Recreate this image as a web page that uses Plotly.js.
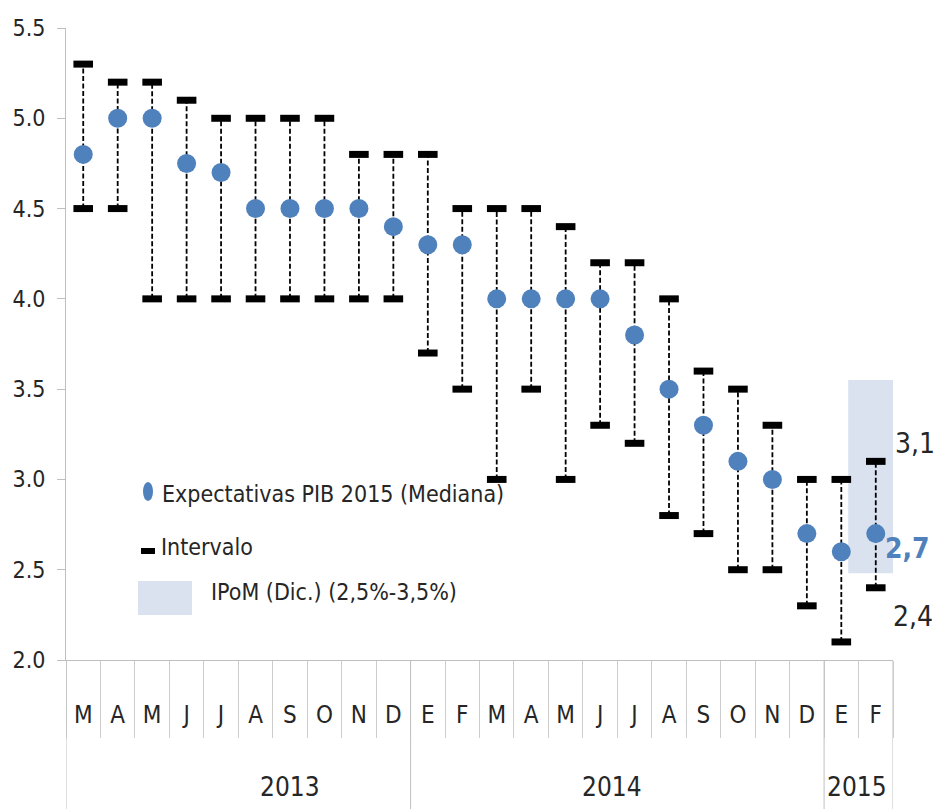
<!DOCTYPE html>
<html>
<head>
<meta charset="utf-8">
<script src="https://cdn.plot.ly/plotly-3.0.1.min.js"></script>
<style>
html,body{margin:0;padding:0;background:#fff;}
#chart{width:934px;height:809px;}
</style>
</head>
<body>
<div id="chart"></div>
<script>
// ---- data ----
const months = ['M','A','M','J','J','A','S','O','N','D','E','F','M','A','M','J','J','A','S','O','N','D','E','F'];
const yearLabels = ['2013','2014','2015'];
const yearLabelPos = [6.0, 15.35, 22.45];
const yearBoundaries = [-0.5, 9.5, 21.5, 23.5];
const median = [4.8,5.0,5.0,4.75,4.7,4.5,4.5,4.5,4.5,4.4,4.3,4.3,4.0,4.0,4.0,4.0,3.8,3.5,3.3,3.1,3.0,2.7,2.6,2.7];
const high   = [5.3,5.2,5.2,5.1,5.0,5.0,5.0,5.0,4.8,4.8,4.8,4.5,4.5,4.5,4.4,4.2,4.2,4.0,3.6,3.5,3.3,3.0,3.0,3.1];
const low    = [4.5,4.5,4.0,4.0,4.0,4.0,4.0,4.0,4.0,4.0,3.7,3.5,3.0,3.5,3.0,3.3,3.2,2.8,2.7,2.5,2.5,2.3,2.1,2.4];
const ipomRange = [2.48, 3.55];
const ipomSpan = [22.2, 23.64];
const legendNames = ['Expectativas PIB 2015 (Mediana)', 'Intervalo', 'IPoM (Dic.) (2,5%-3,5%)'];

// ---- helpers ----
const W = 934, H = 809, ML = 66, MR = 41, MT = 28, MB = 149;
const PW = W - ML - MR, PH = H - MT - MB;
const px = x => (x - ML) / PW;
const py = y => (H - MB - y) / PH;
const fmt = v => v.toFixed(1).replace('.', ',');
const FONT = '"DejaVu Sans Condensed", "Liberation Sans Narrow", "Liberation Sans", sans-serif';
const TXT = '#262626';
const idx = months.map((m, i) => i);
const BLUE = '#4f81bd';
const SHADE = '#dae2f0';

// interval dashed lines
const lx = [], ly = [];
idx.forEach(i => { lx.push(i, i, null); ly.push(low[i], high[i], null); });
const capX = idx.concat(idx);
const capY = low.concat(high);

const traces = [
  { x: lx, y: ly, type: 'scatter', mode: 'lines', line: {color: '#000', width: 1.8, dash: '5px,2.5px'},
    hoverinfo: 'skip', showlegend: false, connectgaps: false },
  { x: capX, y: capY, type: 'scatter', mode: 'markers',
    marker: {symbol: 'line-ew', size: 14, color: '#000', line: {color: '#000', width: 7}},
    name: legendNames[1], showlegend: false },
  { x: idx, y: median, type: 'scatter', mode: 'markers',
    marker: {symbol: 'circle', size: 19, color: BLUE, line: {width: 0}},
    name: legendNames[0], showlegend: false },
  { x: idx, y: median, xaxis: 'x2', type: 'scatter', mode: 'none', hoverinfo: 'skip', showlegend: false }
];

const n = median.length;
const shapes = [
  { type: 'rect', xref: 'x', yref: 'y', x0: ipomSpan[0], x1: ipomSpan[1], y0: ipomRange[0], y1: ipomRange[1],
    fillcolor: SHADE, line: {width: 0}, layer: 'below' },
  // legend symbols
  { type: 'circle', xref: 'paper', yref: 'paper', x0: px(143), x1: px(153), y0: py(482), y1: py(501),
    fillcolor: BLUE, line: {width: 0} },
  { type: 'rect', xref: 'paper', yref: 'paper', x0: px(141), x1: px(155), y0: py(548), y1: py(554),
    fillcolor: '#000', line: {width: 0} },
  { type: 'rect', xref: 'paper', yref: 'paper', x0: px(138), x1: px(192), y0: py(581), y1: py(615),
    fillcolor: SHADE, line: {width: 0} }
];
yearBoundaries.forEach(b => shapes.push({
  type: 'line', xref: 'x', yref: 'paper', x0: b, x1: b, y0: 0, y1: -MB / PH,
  line: {color: '#c0c0c0', width: 1}
}));

const annotations = [
  { xref: 'paper', yref: 'paper', x: px(160), y: py(494), xanchor: 'left', yanchor: 'middle',
    text: legendNames[0], showarrow: false, font: {family: FONT, size: 23, color: TXT} },
  { xref: 'paper', yref: 'paper', x: px(159), y: py(547), xanchor: 'left', yanchor: 'middle',
    text: legendNames[1], showarrow: false, font: {family: FONT, size: 23, color: TXT} },
  { xref: 'paper', yref: 'paper', x: px(209), y: py(592), xanchor: 'left', yanchor: 'middle',
    text: legendNames[2], showarrow: false, font: {family: FONT, size: 23, color: TXT} },
  { xref: 'x', yref: 'y', x: 23.5, y: 3.2, xanchor: 'left', yanchor: 'middle',
    text: fmt(high[n-1]), showarrow: false, font: {family: FONT, size: 28, color: TXT} },
  { xref: 'x', yref: 'y', x: 23.22, y: 2.62, xanchor: 'left', yanchor: 'middle',
    text: '<b>' + fmt(median[n-1]) + '</b>', showarrow: false, font: {family: FONT, size: 28, color: BLUE} },
  { xref: 'x', yref: 'y', x: 23.44, y: 2.24, xanchor: 'left', yanchor: 'middle',
    text: fmt(low[n-1]), showarrow: false, font: {family: FONT, size: 28, color: TXT} }
];
yearLabels.forEach((t, k) => annotations.push({
  xref: 'x', yref: 'paper', x: yearLabelPos[k], y: (H - MB - 787) / PH, xanchor: 'center', yanchor: 'middle',
  text: t, showarrow: false, font: {family: FONT, size: 26, color: TXT}
}));

const boundaries = [];
for (let i = 0; i <= n; i++) boundaries.push(i - 0.5);

const layout = {
  width: W, height: H,
  margin: {l: ML, r: MR, t: MT, b: MB, pad: 0},
  paper_bgcolor: '#fff', plot_bgcolor: '#fff',
  showlegend: false,
  xaxis: {
    range: [-0.5, n - 0.5], fixedrange: true, showgrid: false, zeroline: false,
    showline: true, linecolor: '#bfbfbf', linewidth: 1,
    tickmode: 'array', tickvals: boundaries, ticktext: boundaries.map(() => ''),
    ticks: 'outside', ticklen: 77, tickcolor: '#cccccc', tickwidth: 1, showticklabels: false
  },
  xaxis2: {
    overlaying: 'x', anchor: 'y', side: 'bottom', range: [-0.5, n - 0.5], fixedrange: true,
    showgrid: false, zeroline: false, showline: false,
    tickmode: 'array', tickvals: idx, ticktext: months,
    ticks: 'outside', ticklen: 33, tickcolor: 'rgba(0,0,0,0)',
    tickfont: {family: FONT, size: 24, color: TXT}
  },
  yaxis: {
    range: [2, 5.5], dtick: 0.5, tick0: 2, tickformat: '.1f', fixedrange: true,
    showgrid: false, zeroline: false, showline: true, linecolor: '#bfbfbf', linewidth: 1,
    ticks: 'outside', ticklen: 8, tickcolor: '#bfbfbf', ticklabelstandoff: 7,
    tickfont: {family: FONT, size: 23, color: TXT}
  },
  shapes: shapes,
  annotations: annotations
};

Plotly.newPlot('chart', traces, layout, {staticPlot: true, displayModeBar: false});
</script>
</body>
</html>
